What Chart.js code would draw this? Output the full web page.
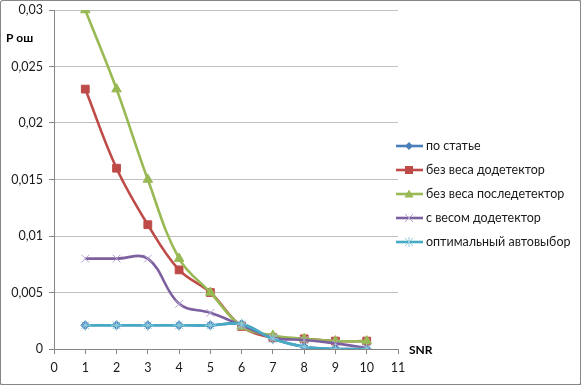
<!DOCTYPE html>
<html>
<head>
<meta charset="utf-8">
<script src="https://cdn.jsdelivr.net/npm/chart.js@4"></script>
<style>
html,body{margin:0;padding:0;background:#fff;}
#wrap{position:relative;width:581px;height:385px;}
#frame{position:absolute;left:0;top:0;width:579px;height:383px;border:1px solid #868686;border-right-width:2px;border-bottom-width:2px;border-radius:3px;box-sizing:content-box;pointer-events:none;}
#wrap canvas{position:absolute;left:0;top:0;}
#legend{position:absolute;left:396px;top:134px;font-family:Lato,"Liberation Sans",sans-serif;font-size:12.5px;color:#1a1a1a;}
#legend div{height:24px;line-height:18px;display:flex;align-items:center;}
#legend svg{margin-right:3px;}
</style>
</head>
<body>
<div id="wrap">
<canvas id="snrChart" width="581" height="385"></canvas>
<div id="legend"></div>
<div id="frame"></div>
</div>
<script>
/* =========================
   P ош vs SNR
========================= */

const snr = [1,2,3,4,5,6,7,8,9,10];

const poStatye = [0.0021,0.0021,0.0021,0.0021,0.0021,0.0022,0.0009,0.0002,0,0];
const bezVesaDo = [0.023,0.016,0.011,0.007,0.005,0.002,0.001,0.0009,0.0007,0.0007];
const bezVesaPosle = [0.03,0.023,0.015,0.008,0.005,0.002,0.0012,0.0009,0.0007,0.0007];
const sVesomDo = [0.008,0.008,0.008,0.004,0.0032,0.0021,0.001,0.0008,0.0005,0.0001];
const optimAuto = [0.0021,0.0021,0.0021,0.0021,0.0021,0.0022,0.0009,0.0002,0,0];

const seriesNames = [
"по статье",
"без веса додетектор",
"без веса последетектор",
"с весом додетектор",
"оптимальный автовыбор"
];

const yTicks = [0,0.005,0.01,0.015,0.02,0.025,0.03];
const xMin = 0, xMax = 11;

const FONT = "Lato, 'Liberation Sans', sans-serif";

function pts(vals){
return snr.map((x,i)=>({x:x,y:vals[i]}));
}

const styles = [
{line:"#4a7ebb",mark:"#4a7ebb",shape:"rectRot",r:4.5,bw:1,order:4},
{line:"#be4b48",mark:"#be4b48",shape:"rect",r:5.5,bw:1,order:3},
{line:"#98b954",mark:"#98b954",shape:"triangle",r:5.5,bw:1,order:2},
{line:"#7d60a0",mark:"#b3a2d0",shape:"crossRot",r:5.5,bw:1,order:1},
{line:"#46aac5",mark:"#93cddd",shape:"star",r:5.5,bw:1,order:0}
];

const allVals = [poStatye,bezVesaDo,bezVesaPosle,sVesomDo,optimAuto];

const datasets = allVals.map((v,i)=>({
label:seriesNames[i],
data:pts(v),
borderColor:styles[i].line,
backgroundColor:styles[i].mark,
pointBorderColor:styles[i].mark,
pointBackgroundColor:styles[i].mark,
pointStyle:styles[i].shape,
pointRadius:styles[i].r,
pointBorderWidth:styles[i].bw,
borderWidth:2.6,
tension:.38,
order:styles[i].order
}));

/* axis captions */
const captions = {
id:"captions",
afterDraw(chart){
const c = chart.ctx;
c.save();
c.font = "bold 12px " + FONT;
c.fillStyle = "#000";
c.textBaseline = "middle";
c.fillText("P ош",6,38);
c.fillText("SNR",409,350);
c.restore();
}
};

new Chart(document.getElementById("snrChart"),{

type:"line",

data:{datasets:datasets},

options:{
responsive:false,
animation:false,
layout:{padding:{top:10,right:183,left:0,bottom:0}},
plugins:{
legend:{display:false},
tooltip:{enabled:false}
},
scales:{
x:{
type:"linear",
min:xMin,
max:xMax,
ticks:{stepSize:1,color:"#1a1a1a",font:{family:FONT,size:12.5},padding:6},
grid:{drawOnChartArea:false,drawTicks:true,tickLength:5,color:"#868686"},
border:{color:"#868686"},
afterFit(s){s.height = 36;s.paddingLeft = 0;s.paddingRight = 0;}
},
y:{
min:0,
max:0.03,
afterBuildTicks(s){s.ticks = yTicks.map(v=>({value:v}));},
ticks:{
color:"#1a1a1a",
font:{family:FONT,size:12.5},
padding:6,
callback:(v)=>String(Math.round(v*1000)/1000).replace(".",",")
},
grid:{color:"#bfbfbf",tickLength:5,tickColor:"#868686"},
border:{color:"#868686"},
afterFit(s){s.width = 54;s.paddingTop = 0;s.paddingBottom = 0;}
}
}
},

plugins:[captions]

});

/* legend: line + marker like the original */
const lg = document.getElementById("legend");
seriesNames.forEach((name,i)=>{
const st = styles[i];
let m = "";
const cx = 13, cy = 9;
if(st.shape==="rectRot") m = `<polygon points="${cx},${cy-4} ${cx+4},${cy} ${cx},${cy+4} ${cx-4},${cy}" fill="${st.mark}"/>`;
if(st.shape==="rect") m = `<rect x="${cx-4}" y="${cy-4}" width="8" height="8" fill="${st.mark}"/>`;
if(st.shape==="triangle") m = `<polygon points="${cx},${cy-4.5} ${cx+4.5},${cy+3.5} ${cx-4.5},${cy+3.5}" fill="${st.mark}"/>`;
if(st.shape==="crossRot") m = `<path d="M${cx-4} ${cy-4}L${cx+4} ${cy+4}M${cx+4} ${cy-4}L${cx-4} ${cy+4}" stroke="${st.mark}" stroke-width="1"/>`;
if(st.shape==="star") m = `<path d="M${cx-4} ${cy-4}L${cx+4} ${cy+4}M${cx+4} ${cy-4}L${cx-4} ${cy+4}M${cx} ${cy-5}L${cx} ${cy+5}" stroke="${st.mark}" stroke-width="1"/>`;
const row = document.createElement("div");
row.innerHTML = `<svg width="27" height="18"><line x1="0" y1="${cy}" x2="27" y2="${cy}" stroke="${st.line}" stroke-width="2.6"/>${m}</svg><span>${name}</span>`;
lg.appendChild(row);
});

</script>
</body>
</html>
